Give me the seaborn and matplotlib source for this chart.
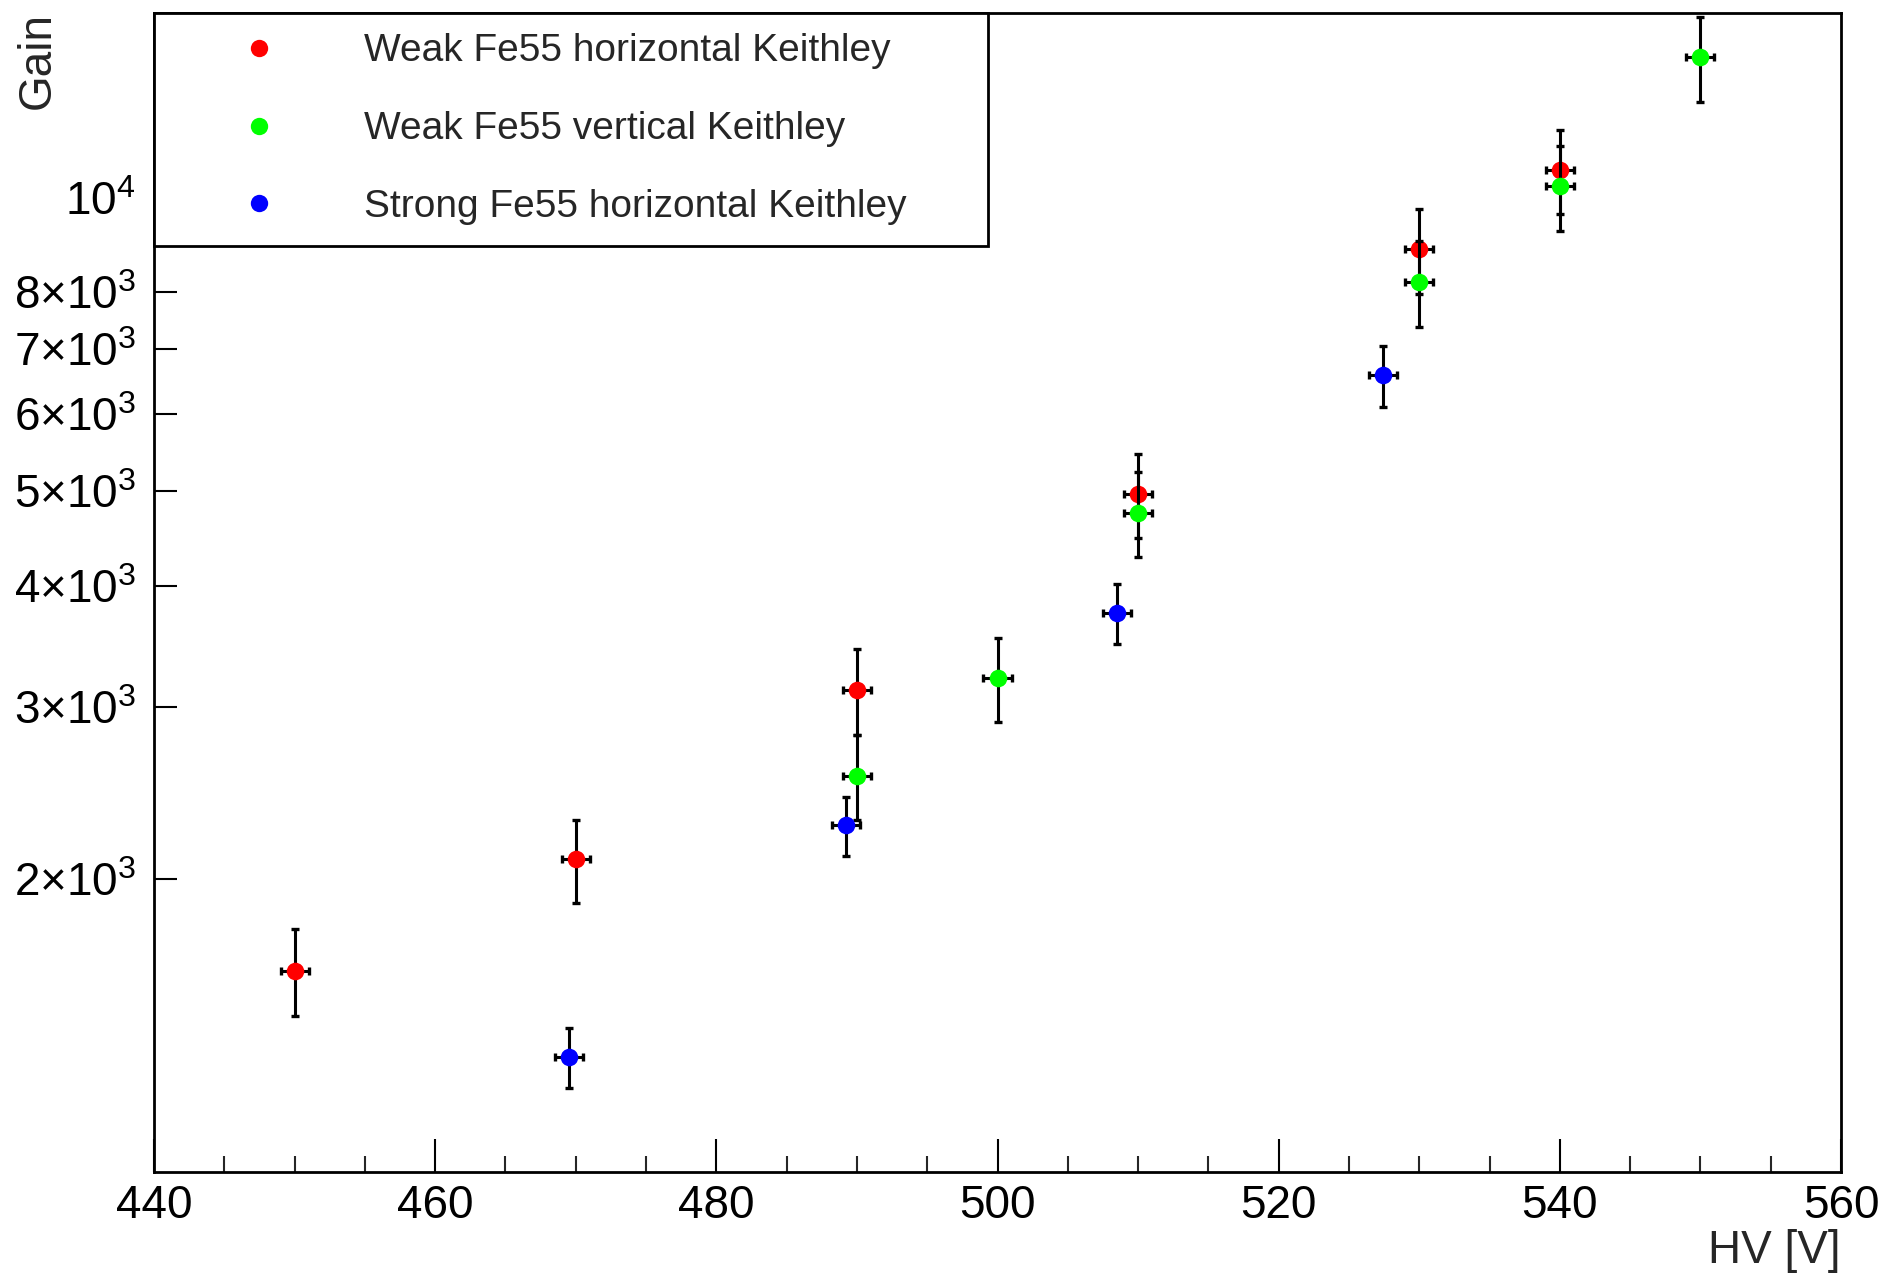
import numpy as np
import pandas as pd
import matplotlib
matplotlib.use("Agg")
import matplotlib.pyplot as plt
from matplotlib.ticker import FixedLocator, MultipleLocator, NullLocator
from matplotlib.lines import Line2D
import seaborn as sns

# ---- data ----
hv_red = [450, 470, 490, 510, 530, 540]
gain_red = [1610, 2094, 3128, 4968, 8857, 10685]
err_red = [165, 205, 315, 495, 887, 1063]

hv_green = [490, 500, 510, 530, 540, 550]
gain_green = [2553, 3217, 4754, 8204, 10287, 13951]
err_green = [256, 320, 475, 825, 1030, 1397]

hv_blue = [469.5, 489.2, 508.5, 527.4]
gain_blue = [1312, 2269, 3752, 6579]
err_blue = [92, 160, 265, 470]

hv_err = 1.0

labels = ["Weak Fe55 horizontal Keithley",
          "Weak Fe55 vertical Keithley",
          "Strong Fe55 horizontal Keithley"]
colors = ["#ff0000", "#00ff00", "#0000ff"]

y_tick_values = [2000, 3000, 4000, 5000, 6000, 7000, 8000, 9000, 10000]
y_tick_labels = ["2×10$^{3}$", "3×10$^{3}$", "4×10$^{3}$", "5×10$^{3}$",
                 "6×10$^{3}$", "7×10$^{3}$", "8×10$^{3}$", "", "10$^{4}$"]
x_ticks = [440, 460, 480, 500, 520, 540, 560]

# ---- style ----
sns.set_theme(style="ticks")
plt.rcParams["font.family"] = ["Liberation Sans", "DejaVu Sans"]
plt.rcParams["mathtext.fontset"] = "custom"
plt.rcParams["mathtext.rm"] = "Liberation Sans"
plt.rcParams["mathtext.it"] = "Liberation Sans:italic"
plt.rcParams["mathtext.bf"] = "Liberation Sans:bold"

W, H = 1893, 1276
fig = plt.figure(figsize=(W / 100, H / 100), dpi=100)
ax = fig.add_axes([154 / W, 1 - 1172 / H, (1841 - 154) / W, (1172 - 12.7) / H])

frames = []
for hv, g, e, lab in [(hv_red, gain_red, err_red, labels[0]),
                      (hv_green, gain_green, err_green, labels[1]),
                      (hv_blue, gain_blue, err_blue, labels[2])]:
    frames.append(pd.DataFrame({"HV": hv, "Gain": g, "err": e, "series": lab}))

for i, df in enumerate(frames):
    ax.errorbar(df["HV"], df["Gain"], yerr=df["err"], xerr=hv_err, fmt="none",
                ecolor="black", elinewidth=2.2, capsize=3, capthick=2.4,
                zorder=2 + 2 * i)
    sns.scatterplot(data=df, x="HV", y="Gain", ax=ax, color=colors[i], s=160,
                    linewidth=0, zorder=3 + 2 * i, legend=False)

ax.set_yscale("log")
ax.set_xlim(440, 560)
ax.set_ylim(1000, 15500)

ax.xaxis.set_major_locator(FixedLocator(x_ticks))
ax.xaxis.set_minor_locator(MultipleLocator(5))
ax.yaxis.set_major_locator(FixedLocator(y_tick_values))
ax.set_yticklabels(y_tick_labels)
ax.yaxis.set_minor_locator(NullLocator())

ax.tick_params(axis="x", which="major", direction="in", length=23.8, width=1.5,
               labelsize=33, pad=9, colors="black", top=False)
ax.tick_params(axis="x", which="minor", direction="in", length=11.5, width=1.5,
               top=False)
ax.tick_params(axis="y", which="major", direction="in", length=16.8, width=1.5,
               labelsize=33, pad=13, colors="black", right=False)
for sp in ax.spines.values():
    sp.set_visible(True)
    sp.set_linewidth(2.0)
    sp.set_color("black")

ax.set_xlabel("")
ax.set_ylabel("")
fig.text(1841 / W, 1 - 1263 / H, "HV [V]", ha="right", va="baseline", fontsize=33)
fig.text(38 / W, 1 - 12 / H, "Gain", ha="center", va="top", rotation=90, fontsize=33)

handles = [Line2D([], [], linestyle="none", marker="o", markersize=12.5,
                  markerfacecolor=c, markeredgewidth=0) for c in colors]
leg = ax.legend(handles, labels, loc="upper left",
                bbox_to_anchor=(0, 0, (988 - 154) / (1841 - 154), 1), mode="expand",
                borderaxespad=0, fontsize=28, frameon=True, fancybox=False,
                borderpad=0.53, handlelength=4.34, handletextpad=0.53,
                labelspacing=1.077)
leg.get_frame().set_edgecolor("black")
leg.get_frame().set_linewidth(2.0)
leg.get_frame().set_alpha(1)
leg.set_zorder(20)

fig.savefig("out.png", dpi=100, facecolor="white")
